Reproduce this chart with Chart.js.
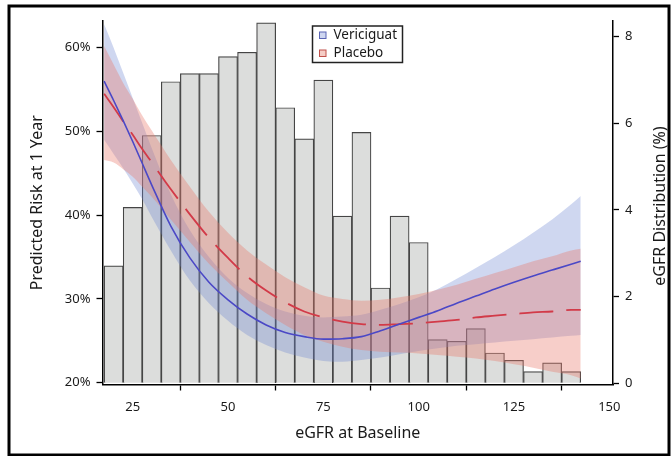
<!DOCTYPE html>
<html>
<head>
<meta charset="utf-8">
<script src="https://cdn.jsdelivr.net/npm/chart.js@4.4.0/dist/chart.umd.min.js"></script>
<style>
  html, body { margin: 0; padding: 0; background: #fff; }
  #wrap { position: relative; width: 671px; height: 456px; }
</style>
</head>
<body>
<div id="wrap"><canvas id="c" width="671" height="456"></canvas></div>
<script>
// ---- Data ----
const binCenters = [20,25,30,35,40,45,50,55,60,65,70,75,80,85,90,95,100,105,110,115,120,125,130,135,140];
const binPct = [2.71,4.06,5.72,6.96,7.15,7.15,7.54,7.64,8.32,6.36,5.64,7.00,3.86,5.79,2.20,3.86,3.25,1.01,0.97,1.26,0.70,0.53,0.27,0.47,0.27];

const curveX = [17.5,20,22.5,25,27.5,30,35,40,45,50,55,60,65,70,75,80,85,90,95,100,105,110,115,120,125,130,135,140,142.5];
const vericiguatRisk  = [56.0,53.7,51.3,48.8,46.2,43.6,38.7,34.9,32.0,29.9,28.2,26.9,26.0,25.5,25.2,25.25,25.5,26.2,27.0,27.8,28.6,29.5,30.35,31.2,32.0,32.75,33.45,34.15,34.5];
const vericiguatUpper = [62.8,60.0,57.0,54.0,51.0,48.0,42.5,38.2,35.0,32.5,30.7,29.4,28.5,28.0,27.8,27.9,28.1,28.7,29.4,30.2,31.2,32.4,33.7,35.0,36.4,37.9,39.5,41.3,42.3];
const vericiguatLower = [49.0,47.3,45.6,43.8,41.9,39.8,35.8,32.2,29.5,27.4,25.7,24.5,23.6,23.0,22.6,22.5,22.7,23.0,23.4,23.8,24.1,24.4,24.6,24.8,25.0,25.2,25.4,25.6,25.7];
const placeboRisk  = [54.5,52.9,51.2,49.6,47.9,46.3,43.1,40.1,37.3,34.9,32.7,31.0,29.6,28.5,27.8,27.3,27.0,26.9,27.0,27.1,27.3,27.5,27.8,28.0,28.2,28.4,28.5,28.7,28.7];
const placeboUpper = [60.2,58.0,55.8,53.9,51.9,50.1,46.6,43.4,40.4,37.9,35.8,34.1,32.6,31.4,30.4,30.0,29.8,29.9,30.2,30.6,31.1,31.7,32.4,33.1,33.8,34.5,35.1,35.8,36.0];
const placeboLower = [46.6,46.3,45.5,44.6,43.4,42.2,39.5,36.8,34.2,32.0,29.9,28.3,26.9,25.7,24.9,24.3,23.9,23.7,23.6,23.5,23.3,23.1,22.9,22.6,22.2,21.8,21.3,20.9,20.5];

const xTicks = [25,50,75,100,125,150];
const riskTicks = [20,30,40,50,60];
const distTicks = [0,2,4,6,8];

const seriesNames = ['Vericiguat','Placebo'];

// ---- helpers ----
const pts = (xs, ys) => xs.map((x, i) => ({x: x, y: ys[i]}));
const FONT = 'Noto Sans';
const BLUE_FILL = 'rgba(110,135,210,0.33)';
const RED_FILL = 'rgba(232,118,105,0.36)';

const lineBase = { type: 'line', yAxisID: 'y', pointRadius: 0, borderWidth: 0, cubicInterpolationMode: 'monotone' };

const framePlugin = {
  id: 'frame',
  beforeDraw(chart) {
    const ctx = chart.ctx;
    ctx.save();
    ctx.fillStyle = '#fff';
    ctx.fillRect(0, 0, chart.width, chart.height);
    ctx.strokeStyle = '#000';
    ctx.lineWidth = 3;
    ctx.strokeRect(9, 6, 660, 449);
    ctx.restore();
  },
  afterDraw(chart) {
    const ctx = chart.ctx;
    ctx.save();
    // right axis title (reads bottom-to-top)
    ctx.translate(660, 206);
    ctx.rotate(-Math.PI / 2);
    ctx.fillStyle = '#1a1a1a';
    ctx.font = '16px "' + FONT + '"';
    ctx.textAlign = 'center';
    ctx.textBaseline = 'middle';
    ctx.fillText('eGFR Distribution (%)', 0, 0);
    ctx.restore();

    // legend
    ctx.save();
    ctx.fillStyle = '#fff';
    ctx.fillRect(312.5, 26, 90, 36.5);
    ctx.strokeStyle = '#222';
    ctx.lineWidth = 1.5;
    ctx.strokeRect(312.5, 26, 90, 36.5);
    const rows = [
      {name: seriesNames[0], fill: 'rgb(206,214,240)', stroke: '#5a64b4', y: 35.5},
      {name: seriesNames[1], fill: 'rgb(245,205,198)', stroke: '#c0504a', y: 53.5}
    ];
    ctx.font = '13.5px "' + FONT + '"';
    ctx.textBaseline = 'middle';
    ctx.textAlign = 'left';
    rows.forEach(r => {
      ctx.fillStyle = r.fill;
      ctx.fillRect(319.5, r.y - 3.5, 6.5, 6.5);
      ctx.strokeStyle = r.stroke;
      ctx.lineWidth = 1;
      ctx.strokeRect(319.5, r.y - 3.5, 6.5, 6.5);
      ctx.fillStyle = '#1a1a1a';
      ctx.fillText(r.name, 333.5, r.y);
    });
    ctx.restore();
  }
};

const tickFont = { family: FONT, size: 13 };
const titleFont = { family: FONT, size: 16, lineHeight: 1.2 };

new Chart(document.getElementById('c'), {
  data: {
    datasets: [
      { type: 'bar', label: 'eGFR distribution', yAxisID: 'y2', order: 3,
        data: pts(binCenters, binPct),
        backgroundColor: '#dcdddc', borderColor: '#454545', borderWidth: 1.2,
        barPercentage: 1.0, categoryPercentage: 1.0 },
      Object.assign({}, lineBase, { label: 'V upper', order: 2.2, data: pts(curveX, vericiguatUpper), fill: '+1', backgroundColor: BLUE_FILL }),
      Object.assign({}, lineBase, { label: 'V lower', order: 2.2, data: pts(curveX, vericiguatLower), fill: false }),
      Object.assign({}, lineBase, { label: 'P upper', order: 2, data: pts(curveX, placeboUpper), fill: '+1', backgroundColor: RED_FILL }),
      Object.assign({}, lineBase, { label: 'P lower', order: 2, data: pts(curveX, placeboLower), fill: false }),
      Object.assign({}, lineBase, { label: seriesNames[0], order: 1, data: pts(curveX, vericiguatRisk), borderColor: '#4b48c6', borderWidth: 1.6, fill: false }),
      Object.assign({}, lineBase, { label: seriesNames[1], order: 1, data: pts(curveX, placeboRisk), borderColor: '#d23a48', borderWidth: 1.8, borderDash: [34, 13], fill: false })
    ]
  },
  options: {
    responsive: false,
    animation: false,
    devicePixelRatio: 1,
    layout: { padding: { left: 10, right: 0, top: 21, bottom: 10 } },
    plugins: { legend: { display: false }, tooltip: { enabled: false } },
    scales: {
      x: {
        type: 'linear', position: 'bottom', min: 17.08, max: 150.97, offset: false,
        afterBuildTicks: s => { s.ticks = xTicks.map(v => ({value: v})); },
        afterFit: s => { s.height = 61.5; },
        grid: { drawOnChartArea: false, drawTicks: true, tickLength: 6, tickColor: '#000', tickWidth: 1.3 },
        border: { display: true, color: '#000', width: 1.5 },
        ticks: { font: tickFont, color: '#1a1a1a', padding: 9, maxRotation: 0 },
        title: { display: true, text: 'eGFR at Baseline', font: titleFont, color: '#1a1a1a', padding: { top: 0, bottom: 3 } }
      },
      y: {
        type: 'linear', position: 'left', min: 19.785, max: 63.19,
        afterBuildTicks: s => { s.ticks = riskTicks.map(v => ({value: v})); },
        afterFit: s => { s.width = 92.5; },
        grid: { drawOnChartArea: false, drawTicks: true, tickLength: 6, tickColor: '#000', tickWidth: 1.3 },
        border: { display: true, color: '#000', width: 1.5 },
        ticks: { font: tickFont, color: '#1a1a1a', padding: 6, callback: v => v + '%' },
        title: { display: true, text: 'Predicted Risk at 1 Year', font: titleFont, color: '#1a1a1a', padding: { top: 17.5, bottom: 0 } }
      },
      y2: {
        type: 'linear', position: 'right', min: -0.028, max: 8.362,
        afterBuildTicks: s => { s.ticks = distTicks.map(v => ({value: v})); },
        afterFit: s => { s.width = 58; },
        grid: { drawOnChartArea: false, drawTicks: true, tickLength: 6, tickColor: '#000', tickWidth: 1.3 },
        border: { display: true, color: '#000', width: 1.5 },
        ticks: { font: tickFont, color: '#1a1a1a', padding: 6 }
      }
    }
  },
  plugins: [framePlugin]
});
</script>
</body>
</html>
